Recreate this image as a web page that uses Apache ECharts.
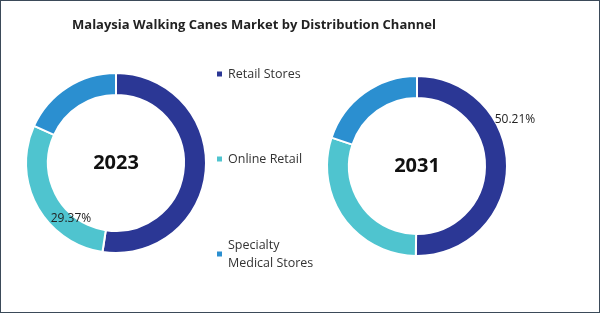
<!DOCTYPE html>
<html>
<head>
<meta charset="utf-8">
<script src="https://cdn.jsdelivr.net/npm/echarts@6/dist/echarts.min.js"></script>
<style>
  html, body { margin: 0; padding: 0; background: #fff; }
  #main { width: 598px; height: 311px; border: 1px solid #3b4a59; }
</style>
</head>
<body>
<div id="main"></div>
<script>
// data
var channels = ['Retail Stores', 'Online Retail', 'Specialty Medical Stores'];
var share2023 = [52.4, 29.37, 18.23];
var share2031 = [50.21, 29.89, 19.9];
var colors = ['#2b3795', '#4fc4cf', '#2b8fd0'];

var chart = echarts.init(document.getElementById('main'));

function pieData(values, labelIdx, offset) {
  return values.map(function (v, i) {
    var item = { name: channels[i], value: v };
    if (i === labelIdx) {
      item.label = { show: true, position: 'inside', offset: offset };
    }
    return item;
  });
}

function donut(cx, cy, values, labelIdx, offset) {
  return {
    type: 'pie',
    center: [cx, cy],
    radius: [68, 90],
    startAngle: 90,
    clockwise: true,
    silent: true,
    itemStyle: { borderColor: '#fff', borderWidth: 2 },
    label: {
      show: false,
      formatter: function (p) { return p.value.toFixed(2) + '%'; },
      color: '#222',
      fontSize: 12,
      fontFamily: 'Open Sans'
    },
    labelLine: { show: false },
    data: pieData(values, labelIdx, offset)
  };
}

var legendText = { color: '#333', fontSize: 12.5, fontFamily: 'Open Sans', lineHeight: 18 };

var option = {
  color: colors,
  animation: false,
  title: {
    text: 'Malaysia Walking Canes Market by Distribution Channel',
    left: 248,
    textAlign: 'center',
    top: 13,
    textStyle: { fontSize: 13, fontWeight: 'bold', color: '#222', fontFamily: 'Open Sans' }
  },
  legend: [
    { data: [channels[0]], left: 209, top: 59, itemWidth: 7, itemHeight: 7, icon: 'rect', textStyle: legendText },
    { data: [channels[1]], left: 209, top: 144, itemWidth: 7, itemHeight: 7, icon: 'rect', textStyle: legendText },
    { data: [channels[2]], left: 209, top: 221, itemWidth: 7, itemHeight: 7, icon: 'rect',
      formatter: function () { return 'Specialty\nMedical Stores'; },
      textStyle: Object.assign({}, legendText, { padding: [18, 0, 0, 0] }) }
  ],
  graphic: [
    { type: 'text', style: { text: '2023', x: 115, y: 162, align: 'center', verticalAlign: 'middle', font: 'bold 20px "Open Sans"', fill: '#111' } },
    { type: 'text', style: { text: '2031', x: 416, y: 165, align: 'center', verticalAlign: 'middle', font: 'bold 20px "Open Sans"', fill: '#111' } }
  ],
  series: [
    donut(115, 162, share2023, 1, [27, 16]),
    donut(416, 165, share2031, 0, [16, -47])
  ]
};
chart.setOption(option);
</script>
</body>
</html>
